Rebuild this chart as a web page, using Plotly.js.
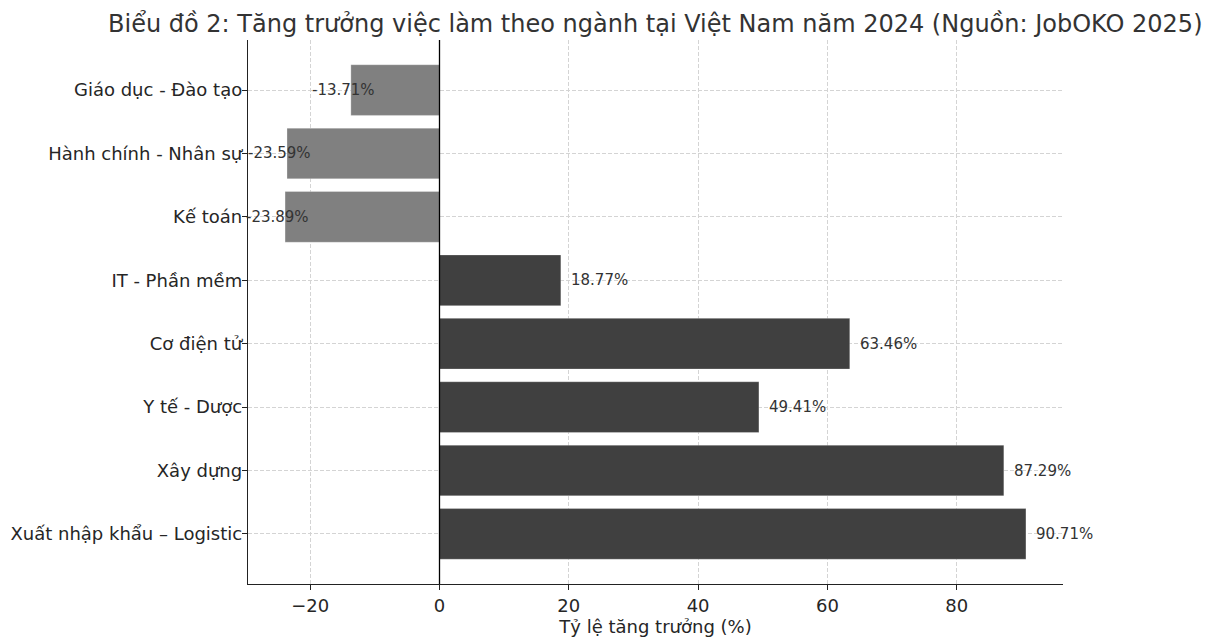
<!DOCTYPE html>
<html>
<head>
<meta charset="utf-8">
<script src="https://cdn.plot.ly/plotly-3.0.1.min.js"></script>
<style>html,body{margin:0;padding:0;background:#fff;}#chart{width:1218px;height:637px;}</style>
</head>
<body>
<div id="chart"></div>
<script>
// Categories, top to bottom as shown
const categories = [
  "Giáo dục - Đào tạo",
  "Hành chính - Nhân sự",
  "Kế toán",
  "IT - Phần mềm",
  "Cơ điện tử",
  "Y tế - Dược",
  "Xây dựng",
  "Xuất nhập khẩu – Logistic"
];
const growth = [-13.71, -23.59, -23.89, 18.77, 63.46, 49.41, 87.29, 90.71];
const xTicks = [-20, 0, 20, 40, 60, 80];

const colors = growth.map(v => v < 0 ? "#808080" : "#404040");
const idx = categories.map((c, i) => i);

const trace = {
  type: "bar",
  orientation: "h",
  x: growth,
  y: idx,
  width: 0.8,
  marker: {color: colors, line: {color: "rgba(255,255,255,0.35)", width: 0.8}},
  hoverinfo: "x+text",
  text: categories,
  textposition: "none"
};

const annotations = growth.map((v, i) => ({
  x: v < 0 ? v - 1.15 : v,
  y: i,
  xref: "x", yref: "y",
  text: v.toFixed(2) + "%",
  showarrow: false,
  xanchor: v < 0 ? "center" : "left",
  xshift: v < 0 ? 0 : 8,
  yanchor: "middle",
  font: {family: "DejaVu Sans", size: 15, color: "#333333"}
}));

// zero line
const shapes = [{
  type: "line", xref: "x", yref: "paper",
  x0: 0, x1: 0, y0: 0, y1: 1,
  line: {color: "#000000", width: 1.3}
}];

const layout = {
  width: 1218, height: 637,
  paper_bgcolor: "#ffffff", plot_bgcolor: "#ffffff",
  margin: {l: 248, r: 155, t: 40, b: 53, pad: 0},
  font: {family: "DejaVu Sans", color: "#262626"},
  title: {
    text: "Biểu đồ 2: Tăng trưởng việc làm theo ngành tại Việt Nam năm 2024 (Nguồn: JobOKO 2025)",
    font: {family: "DejaVu Sans", size: 24, color: "#333333"},
    x: 0.538, xanchor: "center", y: 0.963, yanchor: "middle"
  },
  xaxis: {
    range: [-29.62, 96.44],
    tickmode: "array", tickvals: xTicks, ticktext: xTicks.map(v => v < 0 ? "\u2212" + Math.abs(v) : String(v)),
    ticks: "outside", ticklen: 5, tickwidth: 1.2, tickcolor: "#222",
    showline: true, linecolor: "#222", linewidth: 1.4, mirror: false,
    showgrid: true, gridcolor: "#d4d4d4", griddash: "4px,2px", gridwidth: 1,
    zeroline: false,
    tickfont: {family: "DejaVu Sans", size: 18, color: "#262626"},
    title: {text: "Tỷ lệ tăng trưởng (%)", font: {family: "DejaVu Sans", size: 18, color: "#262626"}, standoff: 4},
    layer: "above traces",
    fixedrange: true
  },
  yaxis: {
    range: [7.79, -0.79],
    tickmode: "array", tickvals: idx, ticktext: categories,
    ticks: "outside", ticklen: 5, tickwidth: 1.2, tickcolor: "#222",
    ticklabelstandoff: -4,
    showline: true, linecolor: "#222", linewidth: 1.4,
    showgrid: true, gridcolor: "#d4d4d4", griddash: "4px,2px", gridwidth: 1,
    zeroline: false,
    tickfont: {family: "DejaVu Sans", size: 18, color: "#262626"},
    layer: "above traces",
    fixedrange: true
  },
  bargap: 0.2,
  showlegend: false,
  annotations: annotations,
  shapes: shapes
};

Plotly.newPlot("chart", [trace], layout, {displayModeBar: false, staticPlot: false});
</script>
</body>
</html>
